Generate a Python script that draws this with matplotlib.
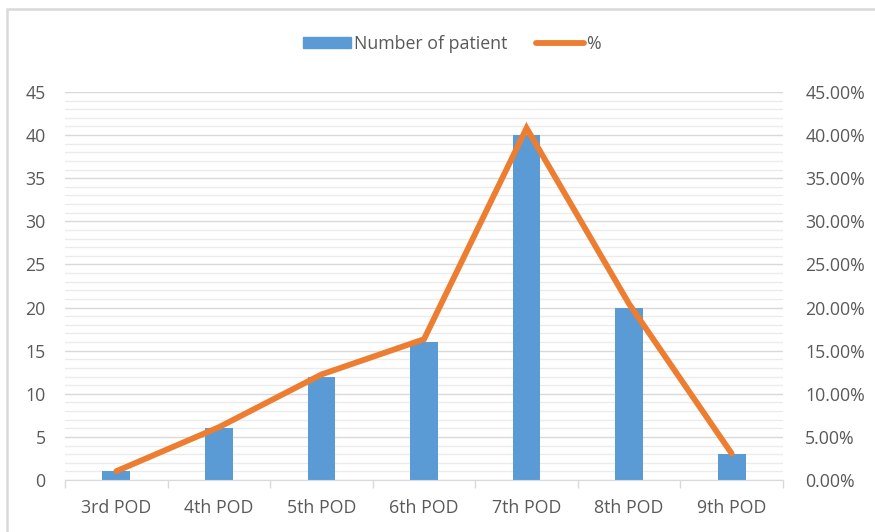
import matplotlib
matplotlib.use("Agg")
import matplotlib.pyplot as plt
from matplotlib.patches import Rectangle
from matplotlib.lines import Line2D
from matplotlib.ticker import MultipleLocator, FuncFormatter

categories = ["3rd POD", "4th POD", "5th POD", "6th POD", "7th POD", "8th POD", "9th POD"]
patients = [1, 6, 12, 16, 40, 20, 3]
percent = [1.02, 6.12, 12.24, 16.33, 40.82, 20.41, 3.06]
left_ticks = list(range(0, 50, 5))
right_ticks = [0, 5, 10, 15, 20, 25, 30, 35, 40, 45]

BLUE = "#5B9BD5"
ORANGE = "#ED7D31"
TXT = "#595959"
GRID = "#d9d9d9"
MINOR = "#ebebeb"
FS = 12.8

plt.rcParams['font.family'] = ['Open Sans', 'DejaVu Sans']

fig = plt.figure(figsize=(8.75, 5.32), dpi=100)
W, H = 875, 532
ax = fig.add_axes([65 / W, 1 - 480 / H, (783 - 65) / W, (480 - 92) / H])
ax2 = ax.twinx()

x = list(range(len(categories)))
ax.bar(x, patients, width=0.27, color=BLUE, zorder=2)
ax.set_xlim(-0.5, len(categories) - 0.5)
ax.set_ylim(0, 45)
ax.set_yticks(left_ticks)
ax.yaxis.set_minor_locator(MultipleLocator(1))
ax.grid(axis='y', which='major', color=GRID, lw=1.0, zorder=0)
ax.grid(axis='y', which='minor', color=MINOR, lw=1.0, zorder=0)
ax.set_axisbelow(True)
ax.set_xticks(x)
ax.set_xticklabels(categories)
ax.set_xticks([i - 0.5 for i in range(len(categories) + 1)], minor=True)
ax.tick_params(axis='x', which='major', length=0, pad=14, labelsize=FS, labelcolor=TXT)
ax.tick_params(axis='x', which='minor', length=6, color=GRID, width=1)
ax.tick_params(axis='y', which='both', length=0, pad=14, labelsize=FS, labelcolor=TXT)
for s in ['top', 'right', 'left']:
    ax.spines[s].set_visible(False)
ax.spines['bottom'].set_color(GRID)

ax2.plot(x, percent, color=ORANGE, lw=4.2, solid_capstyle='round', solid_joinstyle='miter', zorder=3)
ax2.set_ylim(0, 45)
ax2.set_yticks(right_ticks)
ax2.yaxis.set_major_formatter(FuncFormatter(lambda v, p: f"{v:.2f}%"))
ax2.tick_params(axis='y', length=0, pad=16, labelsize=FS, labelcolor=TXT)
for s in ['top', 'right', 'left', 'bottom']:
    ax2.spines[s].set_visible(False)

handles = [Rectangle((0, 0), 1, 1, color=BLUE), Line2D([0], [0], color=ORANGE, lw=4.2, solid_capstyle='round')]
fig.legend(handles, ["Number of patient", "%"], loc='center', bbox_to_anchor=(452 / W, 1 - 44 / H),
           ncol=2, frameon=False, fontsize=FS, labelcolor=TXT, handlelength=2.7, handleheight=0.55,
           columnspacing=1.6, handletextpad=0.15)

fig.patches.append(Rectangle((7 / W, -0.1), 1.2, 1.1 - 9 / H, transform=fig.transFigure,
                             fill=False, edgecolor=GRID, lw=1.8))

fig.savefig("out.png", dpi=100)
